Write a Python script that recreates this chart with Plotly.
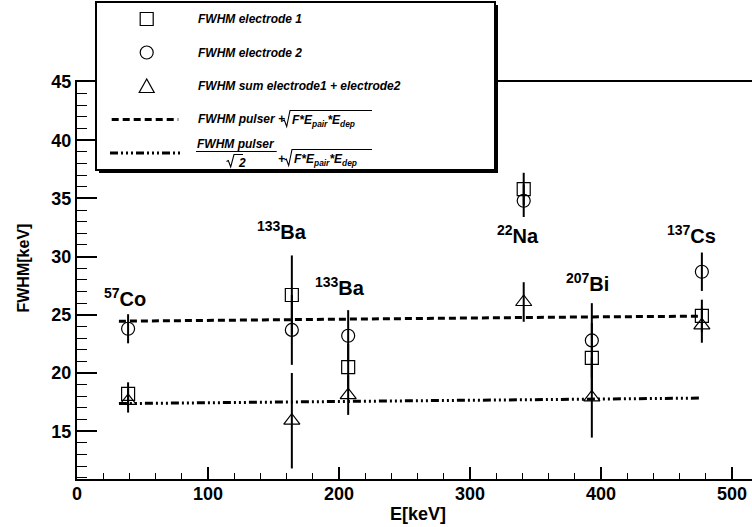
import plotly.graph_objects as go

# ---------------- data ----------------
E_keV = [39, 164, 207, 341, 393, 477]
fwhm_e1 = [18.2, 26.7, 20.5, 35.8, 21.3, 24.9]
err_e1 = [1.0, 3.4, 2.0, 1.4, 3.0, 1.4]
fwhm_e2 = [23.8, 23.7, 23.2, 34.8, 22.8, 28.7]
err_e2 = [1.25, 3.0, 2.2, 1.4, 3.2, 1.65]
fwhm_sum = [17.6, 15.9, 18.1, 26.1, 17.9, 24.1]
err_sum = [1.0, 4.1, 1.7, 1.7, 3.45, 1.5]

line_E = [32, 164, 207, 341, 393, 477]
pulser_line = [24.45, 24.6, 24.65, 24.78, 24.82, 24.88]
pulser_sqrt2_line = [17.37, 17.5, 17.55, 17.72, 17.78, 17.85]

source_labels = ["<sup>57</sup>Co", "<sup>133</sup>Ba", "<sup>133</sup>Ba",
                 "<sup>22</sup>Na", "<sup>207</sup>Bi", "<sup>137</sup>Cs"]
label_E = [36.5, 156.5, 201.0, 337.0, 389.5, 469.0]
label_FWHM = [26.5, 32.2, 27.4, 31.9, 27.8, 31.9]

x_ticks = [0, 100, 200, 300, 400, 500]
y_ticks = [15, 20, 25, 30, 35, 40, 45]

# ---------------- layout geometry ----------------
W, H = 752, 527
ML, MR, MT, MB = 77, 0, 82, 48
PW, PH = W - ML - MR, H - MT - MB
FONT = "Liberation Sans, Arial, sans-serif"


def px(xp):
    return (xp - ML) / PW


def py(yp):
    return (H - MB - yp) / PH


fig = go.Figure()

# theory lines
fig.add_trace(go.Scatter(x=line_E, y=pulser_line, mode="lines",
                         line=dict(color="black", width=3, dash="7px,4px"),
                         showlegend=False, hoverinfo="skip"))
fig.add_trace(go.Scatter(x=line_E, y=pulser_sqrt2_line, mode="lines",
                         line=dict(color="black", width=3,
                                   dash="8px,3px,2px,3px,2px,3px,2px,3px"),
                         showlegend=False, hoverinfo="skip"))

err_style = dict(type="data", color="black", thickness=2, width=0)
for yv, ev, sym, size in [(fwhm_sum, err_sum, "triangle-up-open", 14),
                          (fwhm_e1, err_e1, "square-open", 13),
                          (fwhm_e2, err_e2, "circle-open", 13)]:
    fig.add_trace(go.Scatter(
        x=E_keV, y=yv, mode="markers",
        marker=dict(symbol=sym, size=size, color="black",
                    line=dict(color="black", width=1.2)),
        error_y=dict(array=ev, **err_style),
        showlegend=False))

annotations = []
for t, xe, ye in zip(source_labels, label_E, label_FWHM):
    annotations.append(dict(x=xe, y=ye, xref="x", yref="y", text="<b>" + t + "</b>",
                            showarrow=False, xanchor="center", yanchor="middle",
                            font=dict(family=FONT, size=20, color="black")))

# axis titles
annotations.append(dict(x=px(418), y=py(514), xref="paper", yref="paper",
                        text="<b>E[keV]</b>", showarrow=False,
                        xanchor="center", yanchor="middle",
                        font=dict(family=FONT, size=18, color="black")))
annotations.append(dict(x=px(22.5), y=py(268), xref="paper", yref="paper",
                        text="<b>FWHM[keV]</b>", showarrow=False, textangle=-90,
                        xanchor="center", yanchor="middle",
                        font=dict(family=FONT, size=16, color="black")))

# ---------------- legend box (drawn by hand) ----------------
shapes = []
BX0, BX1, BY0, BY1 = 96, 495, 2, 170
shapes.append(dict(type="rect", xref="paper", yref="paper", layer="above",
                   x0=px(BX0 + 3), x1=px(BX1 + 3), y0=py(BY0 + 3), y1=py(BY1 + 3),
                   fillcolor="black", line=dict(width=0)))
shapes.append(dict(type="rect", xref="paper", yref="paper", layer="above",
                   x0=px(BX0), x1=px(BX1), y0=py(BY0), y1=py(BY1),
                   fillcolor="white", line=dict(color="black", width=2)))

rows = [19, 52.5, 86, 119.5, 153]
sx = 146.7
hs = 6.5
shapes.append(dict(type="rect", xref="paper", yref="paper", layer="above",
                   x0=px(sx - hs), x1=px(sx + hs), y0=py(rows[0] - hs), y1=py(rows[0] + hs),
                   line=dict(color="black", width=1.2)))
shapes.append(dict(type="circle", xref="paper", yref="paper", layer="above",
                   x0=px(sx - hs), x1=px(sx + hs), y0=py(rows[1] - hs), y1=py(rows[1] + hs),
                   line=dict(color="black", width=1.2)))


def path(points, close=False):
    s = "M " + " L ".join("{:.5f} {:.5f}".format(px(a), py(b)) for a, b in points)
    return s + (" Z" if close else "")


shapes.append(dict(type="path", xref="paper", yref="paper", layer="above",
                   path=path([(sx, rows[2] - 7), (sx - 7.5, rows[2] + 6.5),
                              (sx + 7.5, rows[2] + 6.5)], close=True),
                   line=dict(color="black", width=1.2)))
shapes.append(dict(type="line", xref="paper", yref="paper", layer="above",
                   x0=px(111.7), x1=px(178.3), y0=py(rows[3]), y1=py(rows[3]),
                   line=dict(color="black", width=3, dash="7px,4px")))
shapes.append(dict(type="line", xref="paper", yref="paper", layer="above",
                   x0=px(110), x1=px(180), y0=py(rows[4]), y1=py(rows[4]),
                   line=dict(color="black", width=3, dash="8px,3px,2px,3px,2px,3px,2px,3px")))


def radical(x0, yc, top, x_end):
    # small square-root sign followed by its overline
    return dict(type="path", xref="paper", yref="paper", layer="above",
                path=path([(x0, yc + 1.5), (x0 + 1.8, yc + 0.5), (x0 + 4.2, yc + 7),
                           (x0 + 7.5, top), (x_end, top)]),
                line=dict(color="black", width=1.1))


LF = dict(family=FONT, size=12, color="black")
TX = 196.7


def leg_text(x, y, text, xanchor="left", size=None):
    f = dict(LF)
    if size:
        f["size"] = size
    annotations.append(dict(x=px(x), y=py(y), xref="paper", yref="paper",
                            text="<b><i>" + text + "</i></b>", showarrow=False,
                            xanchor=xanchor, yanchor="middle", borderpad=0, font=f))


leg_text(TX, rows[0], "FWHM electrode 1")
leg_text(TX, rows[1], "FWHM electrode 2")
leg_text(TX, rows[2], "FWHM sum electrode1 + electrode2")

# row 4 : FWHM pulser + sqrt(F*E_pair*E_dep)
leg_text(TX, rows[3], "FWHM pulser +")
shapes.append(radical(282.5, rows[3], 110.5, 372))
leg_text(290.5, rows[3] + 1, "F*E<sub>pair</sub>*E<sub>dep</sub>")

# row 5 : FWHM pulser / sqrt(2) + sqrt(F*E_pair*E_dep)
leg_text(236.3, 143.5, "FWHM pulser", xanchor="center")
shapes.append(dict(type="line", xref="paper", yref="paper", layer="above",
                   x0=px(196), x1=px(276.7), y0=py(151.5), y1=py(151.5),
                   line=dict(color="black", width=1.2)))
shapes.append(radical(226.5, 160, 154.5, 243))
leg_text(237.2, 162.5, "2")
leg_text(276.5, 158.5, "+")
shapes.append(radical(284.5, 158.5, 149.5, 372))
leg_text(292.5, 159.5, "F*E<sub>pair</sub>*E<sub>dep</sub>")

tickfont = dict(family=FONT, size=18, color="black", weight="bold")
fig.update_layout(
    width=W, height=H, autosize=False,
    margin=dict(l=ML, r=MR, t=MT, b=MB, pad=0),
    paper_bgcolor="white", plot_bgcolor="white",
    showlegend=False,
    xaxis=dict(range=[0, PW / 1.31], tickvals=x_ticks, ticktext=[str(v) for v in x_ticks],
               ticks="inside", ticklen=12, tickwidth=1.5, tickcolor="black",
               minor=dict(dtick=20, tick0=0, ticks="inside", ticklen=6, tickwidth=1, tickcolor="black"),
               showline=True, linecolor="black", linewidth=2, mirror=True,
               showgrid=False, zeroline=False, tickfont=tickfont, ticklabelstandoff=-3),
    yaxis=dict(range=[45 - PH / 11.64, 45], tickvals=y_ticks, ticktext=[str(v) for v in y_ticks],
               ticks="inside", ticklen=20, tickwidth=1.5, tickcolor="black",
               minor=dict(dtick=1, tick0=0, ticks="inside", ticklen=10, tickwidth=1, tickcolor="black"),
               showline=True, linecolor="black", linewidth=2, mirror=False,
               showgrid=False, zeroline=False, tickfont=tickfont),
    annotations=annotations,
    shapes=shapes,
)

fig.write_html("out.html", config={"displayModeBar": False},
               post_script="document.body.style.margin='0';document.body.style.overflow='hidden';")
